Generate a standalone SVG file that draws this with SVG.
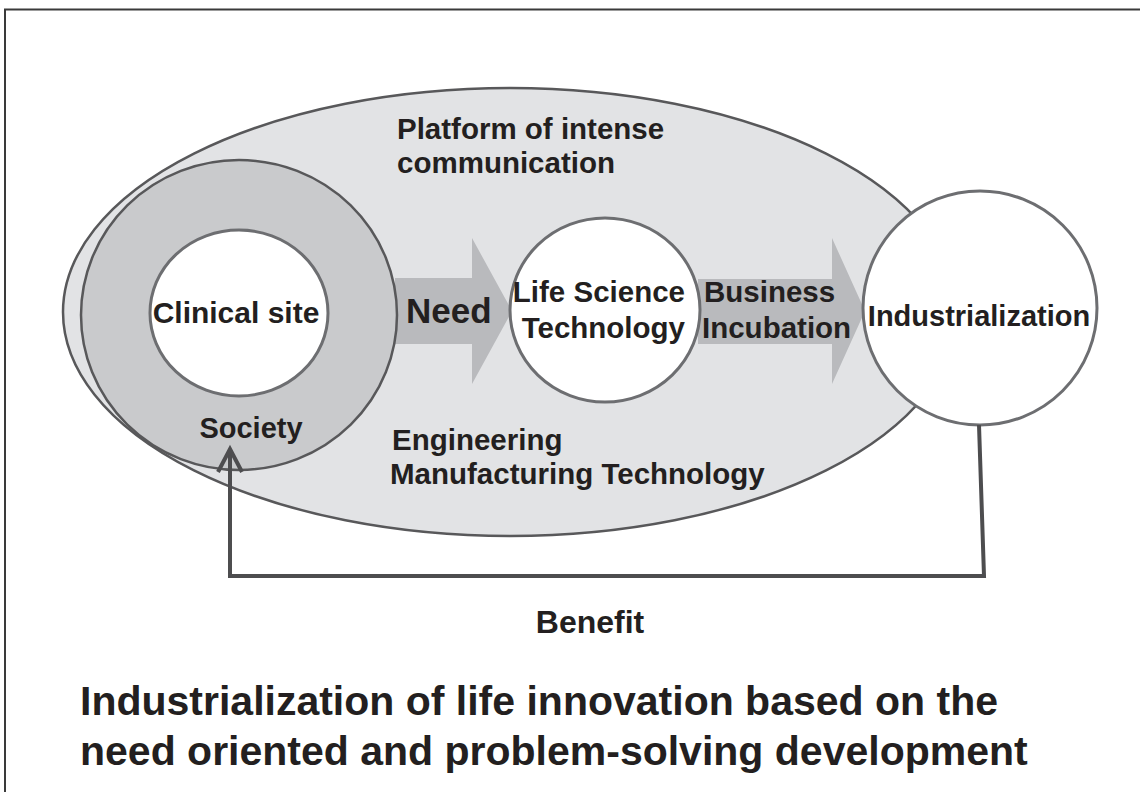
<svg xmlns="http://www.w3.org/2000/svg" width="1140" height="792" viewBox="0 0 1140 792">
  <style>
    .t { font-family: "Liberation Sans", Arial, sans-serif; font-weight: bold; fill: #231f20; }
    .disc { fill: #ffffff; stroke: #6d6e71; stroke-width: 3; }
    .flow { fill: #b9babd; }
    .link { fill: none; stroke: #4d4d4f; stroke-width: 4; }
  </style>
  <rect width="1140" height="792" fill="#ffffff"/>
  <!-- outer frame -->
  <path d="M5 800 V9.5 H1150" fill="none" stroke="#3a3a3a" stroke-width="2"/>

  <!-- platform ellipse -->
  <g id="platform">
    <ellipse cx="510" cy="312" rx="447" ry="224" fill="#e2e3e5" stroke="#58585a" stroke-width="2.5"/>
    <text class="t" x="397" y="139" font-size="29.5">Platform of intense</text>
    <text class="t" x="397" y="173" font-size="29.5">communication</text>
    <text class="t" x="392" y="450" font-size="29.5">Engineering</text>
    <text class="t" x="390" y="484" font-size="29.5">Manufacturing Technology</text>
  </g>

  <!-- flow arrows -->
  <g id="arrow-need">
    <polygon class="flow" points="395,278 472,278 472,238 512,311 472,384 472,344 395,344"/>
    <text class="t" x="406" y="323" font-size="35">Need</text>
  </g>
  <g id="arrow-incubation">
    <polygon class="flow" points="698,279 832,279 832,238 865,311 832,384 832,344 698,344"/>
    <text class="t" x="704" y="302" font-size="29.5">Business</text>
    <text class="t" x="702" y="338" font-size="29.5">Incubation</text>
  </g>

  <!-- society ring with clinical site -->
  <g id="society">
    <ellipse cx="239" cy="315" rx="158" ry="155" fill="#c9cacc" stroke="#58585a" stroke-width="2.5"/>
    <text class="t" x="251" y="438" font-size="29" text-anchor="middle">Society</text>
  </g>
  <g id="clinical-site">
    <ellipse cx="239" cy="313" rx="89" ry="83" class="disc"/>
    <text class="t" x="236" y="323" font-size="30" text-anchor="middle">Clinical site</text>
  </g>

  <g id="life-science">
    <ellipse cx="605" cy="310" rx="95" ry="92" class="disc"/>
    <text class="t" x="685" y="302" font-size="29.5" text-anchor="end">Life Science</text>
    <text class="t" x="685" y="338" font-size="29.5" text-anchor="end">Technology</text>
  </g>

  <g id="industrialization">
    <ellipse cx="980" cy="308" rx="117" ry="117" class="disc"/>
    <text class="t" x="979" y="326" font-size="29" text-anchor="middle">Industrialization</text>
  </g>

  <!-- benefit feedback loop -->
  <g id="connectors">
    <path class="link" d="M979 425 L984 576 H230 V449"/>
    <path class="link" d="M218 472 L230 449 L242 472"/>
  </g>
  <text class="t" x="590" y="633" font-size="32" text-anchor="middle">Benefit</text>

  <!-- caption -->
  <g id="caption">
    <text class="t" x="80" y="715" font-size="41">Industrialization of life innovation based on the</text>
    <text class="t" x="80" y="765" font-size="41">need oriented and problem-solving development</text>
  </g>
</svg>
